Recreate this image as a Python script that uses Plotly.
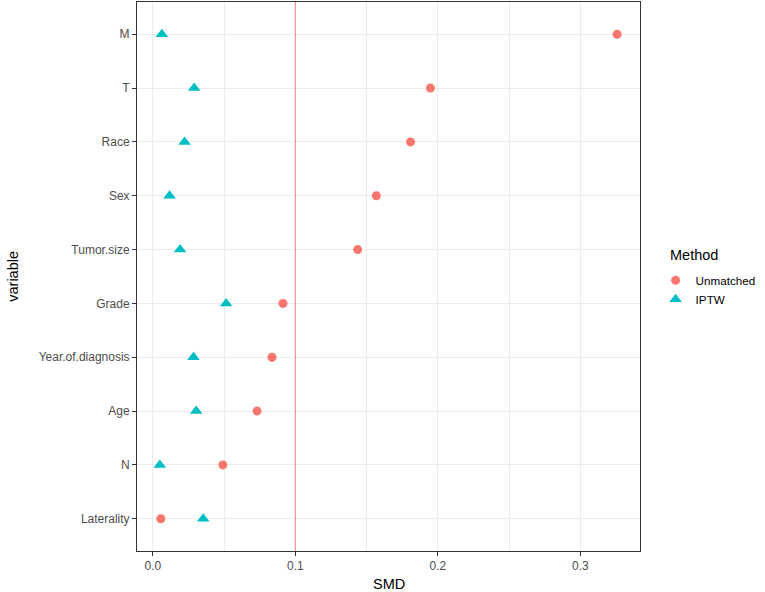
import plotly.graph_objects as go

variables = ["Laterality", "N", "Age", "Year.of.diagnosis", "Grade",
             "Tumor.size", "Sex", "Race", "T", "M"]
smd_unmatched = [0.0056, 0.0491, 0.0731, 0.0836, 0.0913,
                 0.1437, 0.1568, 0.1808, 0.1948, 0.3258]
smd_iptw = [0.0353, 0.0049, 0.0304, 0.0285, 0.0514,
            0.0191, 0.0117, 0.0222, 0.0290, 0.0063]
x_ticks = [0.0, 0.1, 0.2, 0.3]
x_tick_labels = ["0.0", "0.1", "0.2", "0.3"]
threshold = 0.1

FONT = "Liberation Sans, Arial, sans-serif"

fig = go.Figure()
# threshold line as a trace on a hidden overlay axis (0..1 spans the panel)
fig.add_trace(go.Scatter(
    x=[threshold, threshold], y=[0, 1], mode="lines", yaxis="y2",
    line=dict(color="#F59590", width=1.2), showlegend=False, hoverinfo="skip",
))
fig.add_trace(go.Scatter(
    x=smd_unmatched, y=variables, mode="markers", name="Unmatched",
    marker=dict(symbol="circle", size=9, color="#F8766D", line=dict(width=0)),
))
fig.add_trace(go.Scatter(
    x=smd_iptw, y=variables, mode="markers", name="IPTW",
    marker=dict(symbol="triangle-up", size=11, color="#00BFC4", line=dict(width=0)),
))

lo = min(smd_unmatched + smd_iptw)
hi = max(smd_unmatched + smd_iptw)
pad = (hi - lo) * 0.05

fig.update_layout(
    width=765, height=592,
    margin=dict(l=137, r=125, t=2, b=41),
    paper_bgcolor="white", plot_bgcolor="white",
    font=dict(family=FONT, size=12, color="black"),
    showlegend=True,
    legend=dict(
        font=dict(size=11.7, color="black"),
        xref="container", yref="container",
        x=0.857, y=0.551, xanchor="left", yanchor="top",
        bgcolor="rgba(0,0,0,0)", tracegroupgap=0, itemsizing="trace",
    ),
    xaxis=dict(
        range=[lo - pad, hi + pad],
        tickvals=x_ticks, ticktext=x_tick_labels,
        showgrid=True, gridcolor="#EBEBEB", gridwidth=1.1,
        minor=dict(tickvals=[0.05, 0.15, 0.25], showgrid=True, gridcolor="#EBEBEB", gridwidth=0.55, ticks=""),
        zeroline=False,
        showline=True, linecolor="#333333", linewidth=1, mirror=True,
        ticks="outside", ticklen=4, tickcolor="#333333", tickwidth=1,
        tickfont=dict(size=12, color="#4D4D4D"),
    ),
    yaxis=dict(
        type="category", categoryorder="array", categoryarray=variables,
        range=[-0.6, len(variables) - 0.4],
        showgrid=True, gridcolor="#EBEBEB", gridwidth=1.1,
        zeroline=False,
        showline=True, linecolor="#333333", linewidth=1, mirror=True,
        ticks="outside", ticklen=4, tickcolor="#333333", tickwidth=1,
        tickfont=dict(size=12, color="#4D4D4D"),
    ),
    yaxis2=dict(
        overlaying="y", range=[0, 1], visible=False, showgrid=False,
        zeroline=False, fixedrange=True,
    ),
    annotations=[
        dict(text="SMD", xref="paper", yref="paper", x=0.5, y=-0.06,
             xanchor="center", yanchor="middle", showarrow=False,
             font=dict(size=14.5, color="black")),
        dict(text="variable", xref="paper", yref="paper", x=-0.248, y=0.5,
             xanchor="center", yanchor="middle", showarrow=False, textangle=-90,
             font=dict(size=14.5, color="black")),
        dict(text="Method", xref="paper", yref="paper",
             x=(667 - 137) / (639 - 137), y=(551 - 255) / (551 - 2),
             xanchor="left", yanchor="middle", showarrow=False,
             font=dict(size=14.5, color="black")),
    ],
)

fig.write_html("out.html", config={"displayModeBar": False},
               post_script="document.body.style.margin='0';document.body.style.overflow='hidden';")
